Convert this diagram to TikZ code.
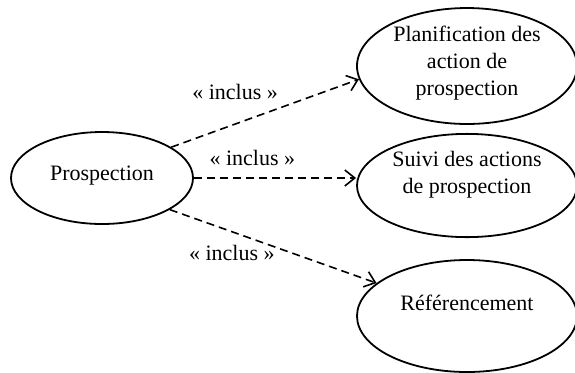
\documentclass[tikz,border=0pt]{standalone}
\usepackage{fontspec}
\setmainfont{Liberation Serif}
\usetikzlibrary{arrows.meta,shapes.geometric}

\begin{document}
\begin{tikzpicture}[x=0.5pt, y=-0.5pt,
  font=\fontsize{11}{13.5}\selectfont,
  usecase/.style={draw, ellipse, line width=0.9pt, inner sep=0pt, align=center, minimum width=110pt, minimum height=56pt},
  incl/.style={draw, dashed, dash pattern=on 4pt off 2.5pt, line width=0.8pt, -{Straight Barb[length=5pt,width=8pt]}},
  stereo/.style={inner sep=0pt}]
\useasboundingbox (0,0) rectangle (575,372);
\node[usecase, minimum width=91pt, minimum height=46pt, text height=8pt, text depth=6pt] (prosp) at (102,178) {Prospection};
\node[usecase, minimum height=57pt, text height=35pt, text depth=6pt] (plan) at (467,66) {Planification des\\action de\\prospection};
\node[usecase, minimum height=51.5pt, text height=22pt, text depth=14.5pt] (suivi) at (467,185.5) {Suivi des actions\\de prospection};
\node[usecase, minimum height=56pt, text height=8pt, text depth=14pt] (ref) at (467,316) {Référencement};
% relations include
\draw[incl] (prosp.24) -- node[stereo, pos=0.34, above=11.7pt] (l1) {« inclus »} (plan.187);
\draw[incl] (prosp.east) -- node[stereo, pos=0.36, above=5.7pt] (l2) {« inclus »} (prosp.east -| suivi.west);
\draw[incl] (prosp.-25) -- node[stereo, pos=0.30, below=6.2pt] (l3) {« inclus »} (ref.160);
\end{tikzpicture}
\end{document}
